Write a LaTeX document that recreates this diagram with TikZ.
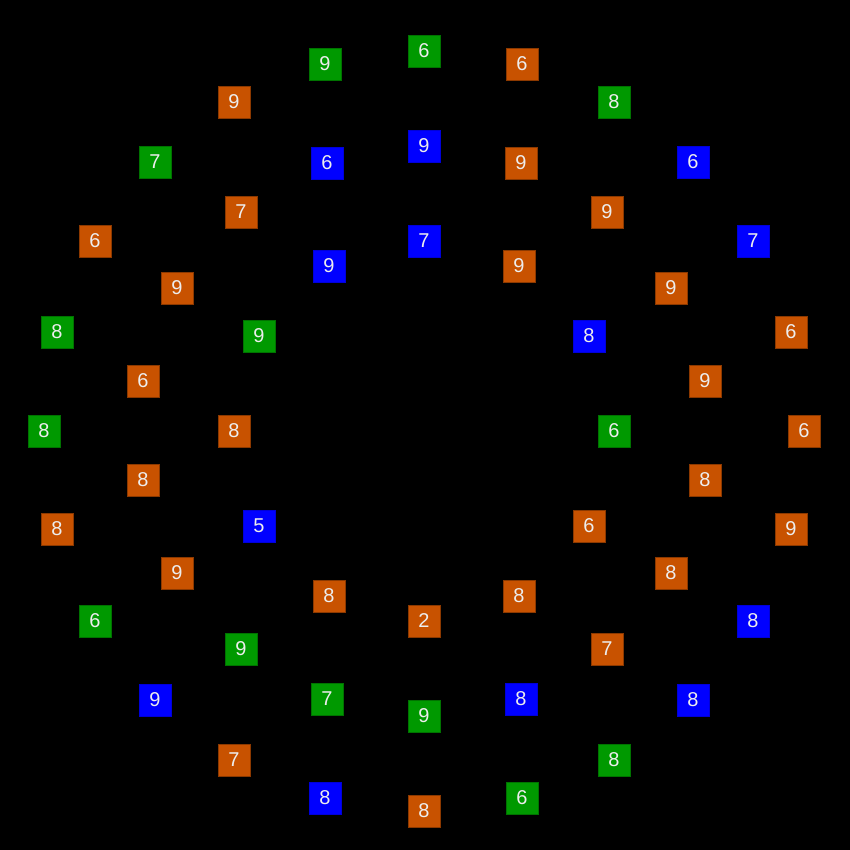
\documentclass[tikz,border=0pt]{standalone}
\usepackage{fontspec}
\setmainfont{Liberation Sans}
\definecolor{cor}{HTML}{C85200}
\definecolor{cgr}{HTML}{009900}
\definecolor{cbl}{HTML}{0000FF}
\begin{document}
\begin{tikzpicture}[x=1pt,y=-1pt,
  sq/.style={minimum size=32pt,inner sep=0pt,outer sep=0pt,text=white!93!black,font=\fontsize{20}{20}\selectfont,line width=0.8pt},
  o/.style={sq,fill=cor,draw=cor!70!black},
  g/.style={sq,fill=cgr,draw=cgr!75!black},
  b/.style={sq,fill=cbl,draw=cbl!85!black}]
\fill[black] (0,0) rectangle (850,850);
\useasboundingbox (0,0) rectangle (850,850);
\foreach \x/\y/\s/\t [count=\i] in {
325/64/g/9, 424/51/g/6, 522/64/o/6, 234/102/o/9, 614/102/g/8,
155/162/g/7, 327/163/b/6, 424/146/b/9, 521/163/o/9, 693/162/b/6,
241/212/o/7, 607/212/o/9, 95/241/o/6, 424/241/b/7, 753/241/b/7,
329/266/b/9, 519/266/o/9, 177/288/o/9, 671/288/o/9,
57/332/g/8, 259/336/g/9, 589/336/b/8, 791/332/o/6,
143/381/o/6, 705/381/o/9,
44/431/g/8, 234/431/o/8, 614/431/g/6, 804/431/o/6,
143/480/o/8, 705/480/o/8,
57/529/o/8, 259/526/b/5, 589/526/o/6, 791/529/o/9,
177/573/o/9, 671/573/o/8, 329/596/o/8, 519/596/o/8,
95/621/g/6, 424/621/o/2, 753/621/b/8,
241/649/g/9, 607/649/o/7,
155/700/b/9, 327/699/g/7, 521/699/b/8, 693/700/b/8,
424/716/g/9, 234/760/o/7, 614/760/g/8,
325/798/b/8, 424/811/o/8, 522/798/g/6}
  \node[\s] (n\i) at (\x,\y) {\t};
\end{tikzpicture}
\end{document}
